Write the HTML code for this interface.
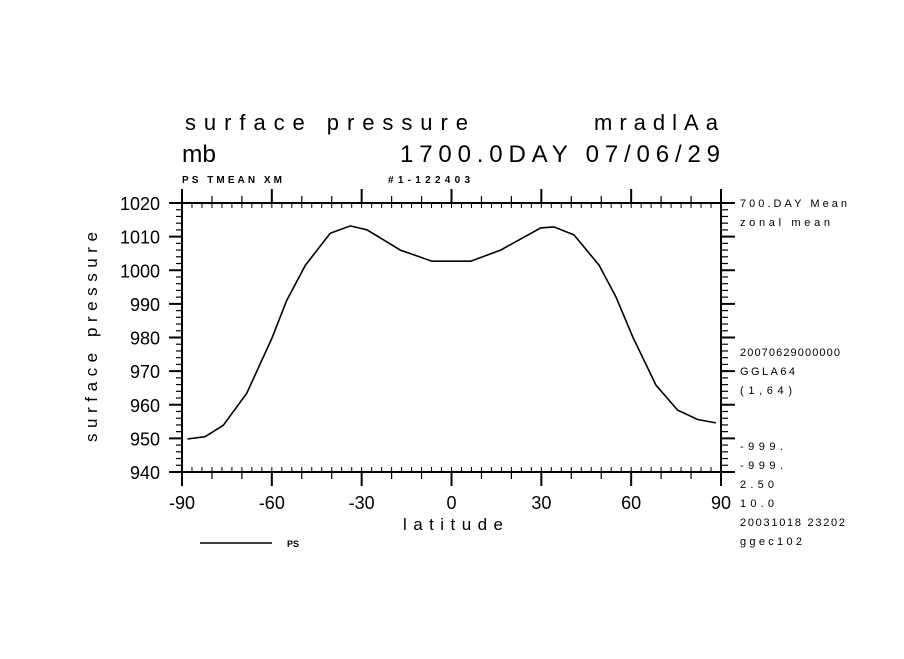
<!DOCTYPE html>
<html><head><meta charset="utf-8"><style>
body{margin:0;background:#fff;}
svg text{font-family:"Liberation Sans",sans-serif;fill:#000;}
</style></head><body>
<svg id="chart" width="904" height="654" viewBox="0 0 904 654" xmlns="http://www.w3.org/2000/svg">
<rect width="904" height="654" fill="#fff"/>
<text x="185" y="130" font-size="22" textLength="283" lengthAdjust="spacing">surface pressure</text>
<text x="594" y="130" font-size="22" textLength="124" lengthAdjust="spacing">mradlAa</text>
<text x="182" y="162" font-size="24" textLength="34" lengthAdjust="spacingAndGlyphs">mb</text>
<text x="400" y="162" font-size="24" textLength="320" lengthAdjust="spacing">1700.0DAY 07/06/29</text>
<text x="182" y="183" font-size="10" font-weight="bold" textLength="100" lengthAdjust="spacing">PS TMEAN XM</text>
<text x="388" y="183" font-size="10" font-weight="bold" textLength="82" lengthAdjust="spacing">#1-122403</text>
<g id="axes"></g>
<path id="line" fill="none" stroke="#000" stroke-width="1.6"/>
<text x="453" y="530" font-size="17" text-anchor="middle" textLength="100" lengthAdjust="spacing">latitude</text>
<text transform="translate(97,337) rotate(-90)" font-size="17" text-anchor="middle" textLength="210" lengthAdjust="spacing">surface pressure</text>
<line x1="200" y1="543" x2="272" y2="543" stroke="#000" stroke-width="1.6"/>
<text x="287" y="547" font-size="9" font-weight="bold">PS</text>
<g font-size="11">
<text x="740" y="207" textLength="107" lengthAdjust="spacing">700.DAY Mean</text>
<text x="740" y="226" textLength="90" lengthAdjust="spacing">zonal mean</text>
<text x="740" y="356" textLength="100" lengthAdjust="spacing">20070629000000</text>
<text x="740" y="375" textLength="55" lengthAdjust="spacing">GGLA64</text>
<text x="740" y="394" textLength="52" lengthAdjust="spacing">(1,64)</text>
<text x="740" y="450" textLength="43" lengthAdjust="spacing">-999.</text>
<text x="740" y="469" textLength="43" lengthAdjust="spacing">-999.</text>
<text x="740" y="488" textLength="34" lengthAdjust="spacing">2.50</text>
<text x="740" y="507" textLength="34" lengthAdjust="spacing">10.0</text>
<text x="740" y="526" textLength="105" lengthAdjust="spacing">20031018  23202</text>
<text x="740" y="545" textLength="62" lengthAdjust="spacing">ggec102</text>
</g>
</svg>
<script>
const lats=[-88.2,-82.3,-76.2,-68.4,-60,-55,-48.8,-40.5,-33.8,-28.2,-17.1,-6.5,6.4,16.4,29.8,34.2,40.9,49.3,54.9,60.5,68.3,75.5,82.2,88.3];
const values=[949.8,950.5,953.9,963.4,979.7,991.1,1001.5,1011,1013.2,1012,1006,1002.7,1002.7,1006,1012.6,1012.9,1010.5,1001.5,992.1,980.2,965.8,958.4,955.6,954.6];
const xTicks=[-90,-60,-30,0,30,60,90];
const yTicks=[940,950,960,970,980,990,1000,1010,1020];
const X0=182,X1=721,Y0=203,Y1=472;
const xs=v=>X0+(v+90)/180*(X1-X0);
const ys=v=>Y1-(v-940)/80*(Y1-Y0);
const NS="http://www.w3.org/2000/svg";
const ax=document.getElementById('axes');
function ln(x1,y1,x2,y2,w){const l=document.createElementNS(NS,'line');l.setAttribute('x1',x1);l.setAttribute('y1',y1);l.setAttribute('x2',x2);l.setAttribute('y2',y2);l.setAttribute('stroke','#000');l.setAttribute('stroke-width',w);


ax.appendChild(l);}
const fr=document.createElementNS(NS,'rect');
fr.setAttribute('x',X0);fr.setAttribute('y',Y0);fr.setAttribute('width',X1-X0);fr.setAttribute('height',Y1-Y0);fr.setAttribute('fill','none');fr.setAttribute('stroke','#000');fr.setAttribute('stroke-width','2');


ax.appendChild(fr);
for(let i=0;i<=54;i++){const x=X0+i*(X1-X0)/54;ln(x,Y1,x,Y1-5,1);ln(x,Y0,x,Y0+5,1);}
for(let d=-90;d<=90;d+=10){const x=xs(d);const maj=(d%30===0);ln(x,Y1,x,Y1+(maj?14:7),maj?2:1.2);ln(x,Y0,x,Y0-(maj?14:7),maj?2:1.2);}
for(let v=940;v<=1020;v+=2){const y=ys(v);const maj=(v%10===0);ln(X0,y,X0+(maj?0:0),y,1);ln(X0,y,X0-(maj?13:6),y,maj?2:1.2);ln(X1,y,X1+(maj?14:7),y,maj?2:1.2);}
xTicks.forEach(v=>{const t=document.createElementNS(NS,'text');t.setAttribute('x',xs(v));t.setAttribute('y',509);t.setAttribute('font-size','18');t.setAttribute('text-anchor','middle');t.textContent=v;


ax.appendChild(t);});
yTicks.forEach(v=>{const t=document.createElementNS(NS,'text');t.setAttribute('x',160);t.setAttribute('y',ys(v)+7);t.setAttribute('font-size','18');t.setAttribute('text-anchor','end');t.textContent=v;


ax.appendChild(t);});
document.getElementById('line').setAttribute('d',lats.map((l,i)=>(i?'L':'M')+xs(l).toFixed(1)+' '+ys(values[i]).toFixed(1)).join(' '));
</script>
</body></html>
